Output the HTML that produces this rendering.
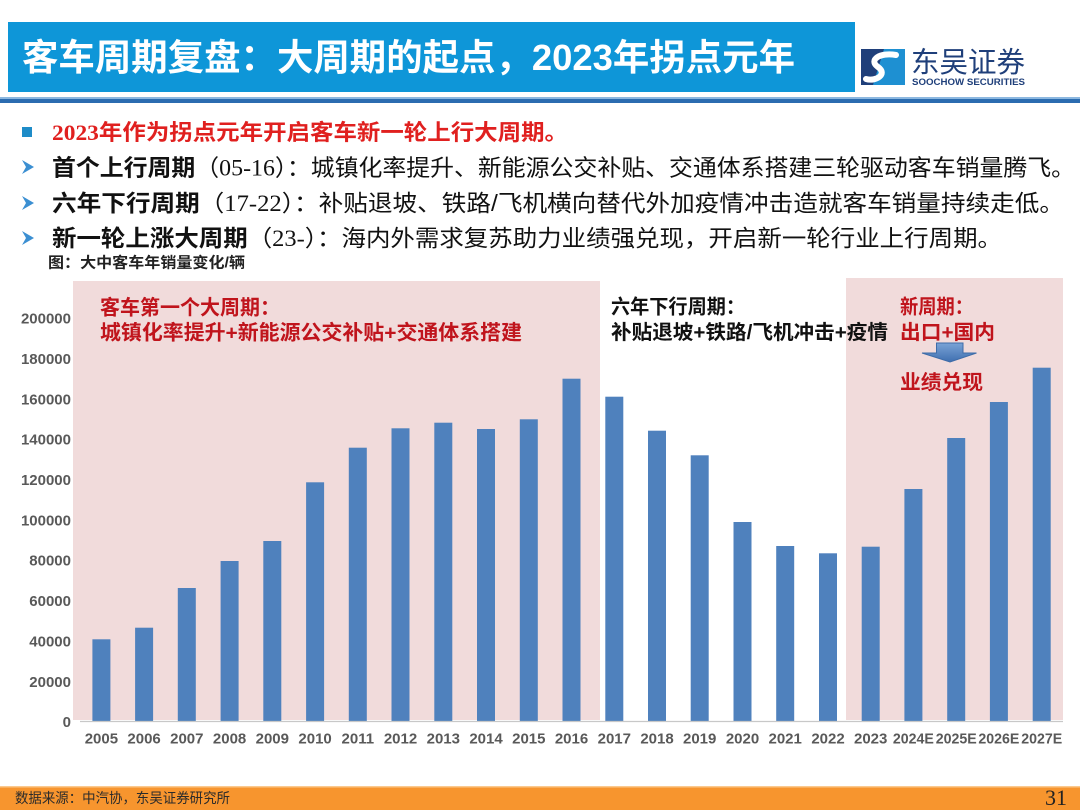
<!DOCTYPE html>
<html><head><meta charset="utf-8"><style>
html,body{margin:0;padding:0;background:#fff;}
svg{display:block;}
text{font-family:"Liberation Sans","Noto Sans CJK SC",sans-serif;}
.sf{font-family:"Liberation Serif","Noto Sans CJK SC",serif;}
</style></head><body>
<svg width="1080" height="810" viewBox="0 0 1080 810" xmlns="http://www.w3.org/2000/svg">
<defs>
<linearGradient id="ag" x1="0" y1="0" x2="0" y2="1">
<stop offset="0" stop-color="#7AA3D6"/><stop offset="1" stop-color="#3F6FB0"/>
</linearGradient>
</defs>
<rect width="1080" height="810" fill="#fff"/>
<!-- header -->
<rect x="8" y="22" width="847" height="70" fill="#0E96D8"/>
<text x="22" y="70" font-size="36.5" font-weight="bold" fill="#fff" textLength="773" lengthAdjust="spacingAndGlyphs">客车周期复盘：大周期的起点，2023年拐点元年</text>
<!-- logo -->
<rect x="861" y="49" width="44" height="36" fill="#1F3F7A"/>
<path d="M884 49 L905 49 L905 85 L873 85 Z" fill="#1E90D2"/>
<path d="M896 55 C880 52 868 60 878 67 C888 74 876 82 866 79" stroke="#fff" stroke-width="6" fill="none" stroke-linecap="round"/>
<text x="911" y="72" font-size="28.5" fill="#1F3F7A" textLength="114" lengthAdjust="spacingAndGlyphs">东吴证券</text>
<text x="912" y="85" font-size="9.5" font-weight="bold" fill="#1F3F7A" textLength="113" lengthAdjust="spacingAndGlyphs">SOOCHOW SECURITIES</text>
<rect x="0" y="97" width="1080" height="2" fill="#8DB8E0"/>
<rect x="0" y="99" width="1080" height="4" fill="#2B6CB0"/>

<!-- bullets -->
<rect x="22" y="127" width="10" height="10" fill="#1E8CC8"/>
<text x="52" y="140" font-size="22" font-weight="bold" fill="#E0201F" textLength="516" lengthAdjust="spacingAndGlyphs"><tspan class="sf">2023</tspan>年作为拐点元年开启客车新一轮上行大周期。</text>

<path d="M22 160 L34 167 L22 174 L26 167 Z" fill="#3B8FD2"/>
<text x="52" y="175.5" font-size="23" fill="#111" textLength="1023" lengthAdjust="spacingAndGlyphs"><tspan font-weight="bold">首个上行周期</tspan><tspan class="sf">（05-16）</tspan>：城镇化率提升、新能源公交补贴、交通体系搭建三轮驱动客车销量腾飞。</text>

<path d="M22 196 L34 203 L22 210 L26 203 Z" fill="#3B8FD2"/>
<text x="52" y="211" font-size="23" fill="#111" textLength="1012" lengthAdjust="spacingAndGlyphs"><tspan font-weight="bold">六年下行周期</tspan><tspan class="sf">（17-22）</tspan>：补贴退坡、铁路/飞机横向替代外加疫情冲击造就客车销量持续走低。</text>

<path d="M22 231 L34 238 L22 245 L26 238 Z" fill="#3B8FD2"/>
<text x="52" y="246" font-size="23" fill="#111" textLength="950" lengthAdjust="spacingAndGlyphs"><tspan font-weight="bold">新一轮上涨大周期</tspan><tspan class="sf">（23-）</tspan>：海内外需求复苏助力业绩强兑现，开启新一轮行业上行周期。</text>

<text x="48" y="267.5" font-size="15" font-weight="bold" fill="#222" textLength="197" lengthAdjust="spacingAndGlyphs">图：大中客车年销量变化/辆</text>

<!-- pink regions -->
<rect x="73" y="281" width="527" height="439" fill="#F1DBDB"/>
<rect x="846" y="278" width="217" height="442" fill="#F1DBDB"/>

<!-- y labels -->
<g font-size="15" font-weight="bold" fill="#595959" text-anchor="end">
<text x="71" y="727.1">0</text>
<text x="71" y="686.8">20000</text>
<text x="71" y="646.4">40000</text>
<text x="71" y="606.1">60000</text>
<text x="71" y="565.7">80000</text>
<text x="71" y="525.4">100000</text>
<text x="71" y="485.0">120000</text>
<text x="71" y="444.7">140000</text>
<text x="71" y="404.3">160000</text>
<text x="71" y="364.0">180000</text>
<text x="71" y="323.6">200000</text>
</g>

<!-- bars -->
<g fill="#4F81BD">
<rect x="92.4" y="639.3" width="18" height="81.7"/>
<rect x="135.1" y="627.7" width="18" height="93.3"/>
<rect x="177.8" y="588" width="18" height="133"/>
<rect x="220.6" y="561" width="18" height="160"/>
<rect x="263.3" y="541" width="18" height="180"/>
<rect x="306.1" y="482.3" width="18" height="238.7"/>
<rect x="348.8" y="447.7" width="18" height="273.3"/>
<rect x="391.5" y="428.3" width="18" height="292.7"/>
<rect x="434.3" y="422.7" width="18" height="298.3"/>
<rect x="477.0" y="429" width="18" height="292"/>
<rect x="519.8" y="419.3" width="18" height="301.7"/>
<rect x="562.5" y="378.7" width="18" height="342.3"/>
<rect x="605.3" y="396.7" width="18" height="324.3"/>
<rect x="648.0" y="430.7" width="18" height="290.3"/>
<rect x="690.7" y="455.3" width="18" height="265.7"/>
<rect x="733.5" y="522" width="18" height="199"/>
<rect x="776.2" y="546" width="18" height="175"/>
<rect x="819.0" y="553.3" width="18" height="167.7"/>
<rect x="861.7" y="546.7" width="18" height="174.3"/>
<rect x="904.4" y="489" width="18" height="232"/>
<rect x="947.2" y="438" width="18" height="283"/>
<rect x="989.9" y="402" width="18" height="319"/>
<rect x="1032.7" y="367.7" width="18" height="353.3"/>
</g>
<line x1="80" y1="721.5" x2="1063" y2="721.5" stroke="#C8C8C8" stroke-width="1.2"/>

<!-- x labels -->
<g font-size="15" font-weight="bold" fill="#595959" text-anchor="middle">
<text x="101.4" y="743.7">2005</text>
<text x="144.1" y="743.7">2006</text>
<text x="186.8" y="743.7">2007</text>
<text x="229.6" y="743.7">2008</text>
<text x="272.3" y="743.7">2009</text>
<text x="315.1" y="743.7">2010</text>
<text x="357.8" y="743.7">2011</text>
<text x="400.5" y="743.7">2012</text>
<text x="443.3" y="743.7">2013</text>
<text x="486.0" y="743.7">2014</text>
<text x="528.8" y="743.7">2015</text>
<text x="571.5" y="743.7">2016</text>
<text x="614.3" y="743.7">2017</text>
<text x="657.0" y="743.7">2018</text>
<text x="699.7" y="743.7">2019</text>
<text x="742.5" y="743.7">2020</text>
<text x="785.2" y="743.7">2021</text>
<text x="828.0" y="743.7">2022</text>
<text x="870.7" y="743.7">2023</text>
<text x="913.4" y="743.7" textLength="41" lengthAdjust="spacingAndGlyphs">2024E</text>
<text x="956.2" y="743.7" textLength="41" lengthAdjust="spacingAndGlyphs">2025E</text>
<text x="998.9" y="743.7" textLength="41" lengthAdjust="spacingAndGlyphs">2026E</text>
<text x="1041.7" y="743.7" textLength="41" lengthAdjust="spacingAndGlyphs">2027E</text>
</g>

<!-- annotations -->
<g font-weight="bold">
<text x="100" y="314.5" font-size="20.5" fill="#C0141C" textLength="180" lengthAdjust="spacingAndGlyphs">客车第一个大周期：</text>
<text x="100" y="339.5" font-size="20.5" fill="#C0141C" textLength="422" lengthAdjust="spacingAndGlyphs">城镇化率提升+新能源公交补贴+交通体系搭建</text>
<text x="611" y="313.5" font-size="20" fill="#111" textLength="134" lengthAdjust="spacingAndGlyphs">六年下行周期：</text>
<text x="611" y="339" font-size="20" fill="#111" textLength="277" lengthAdjust="spacingAndGlyphs">补贴退坡+铁路/飞机冲击+疫情</text>
<text x="900" y="313.5" font-size="20" fill="#C0141C" textLength="73" lengthAdjust="spacingAndGlyphs">新周期：</text>
<text x="900" y="339" font-size="20" fill="#C0141C" textLength="95" lengthAdjust="spacingAndGlyphs">出口+国内</text>
<text x="900" y="389" font-size="20" fill="#C0141C" textLength="83" lengthAdjust="spacingAndGlyphs">业绩兑现</text>
</g>
<path d="M936.5 343 L963 343 L963 353 L976.5 353 L950 362 L922 353 L936.5 353 Z" fill="url(#ag)" stroke="#3E6CA8" stroke-width="1"/>

<!-- footer -->
<rect x="0" y="787" width="1080" height="23" fill="#F7952E"/>
<rect x="0" y="786" width="1080" height="1.5" fill="#FBC98E"/>
<text x="15" y="803" font-size="14" fill="#2b2b2b" textLength="215" lengthAdjust="spacingAndGlyphs">数据来源：中汽协，东吴证券研究所</text>
<text x="1045" y="805" font-size="22" fill="#222" class="sf">31</text>
</svg>
</body></html>
